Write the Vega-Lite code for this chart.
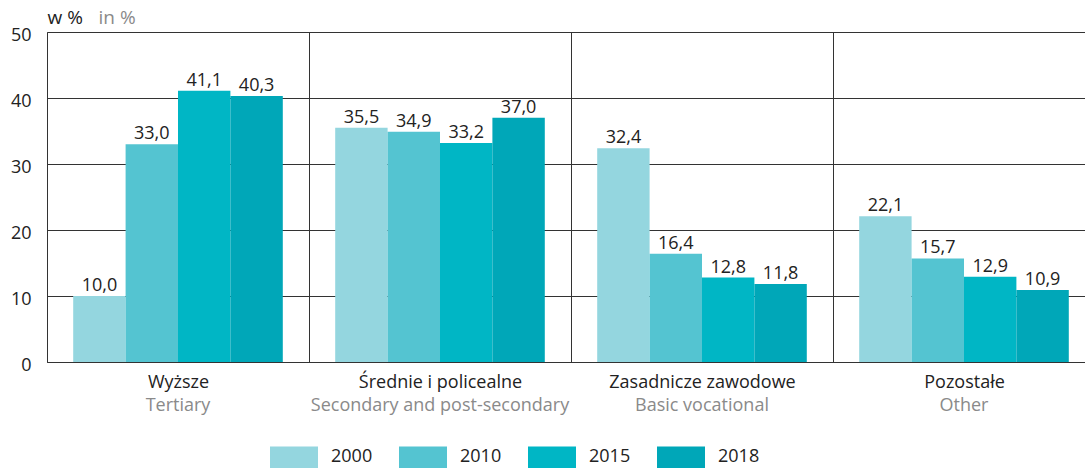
{
  "$schema": "https://vega.github.io/schema/vega-lite/v6.json",
  "width": 1038,
  "height": 330,
  "autosize": {"type": "none"},
  "padding": {"left": 47, "top": 32, "right": 0, "bottom": 106},
  "config": {
    "font": "Open Sans",
    "view": {"stroke": null},
    "locale": {"number": {"decimal": ",", "thousands": "\u00a0", "grouping": [3], "currency": ["", " zł"]}}
  },
  "data": {
    "values": [
      {"category": "Wyższe", "year": "2000", "value": 10.0},
      {"category": "Wyższe", "year": "2010", "value": 33.0},
      {"category": "Wyższe", "year": "2015", "value": 41.1},
      {"category": "Wyższe", "year": "2018", "value": 40.3},
      {"category": "Średnie i policealne", "year": "2000", "value": 35.5},
      {"category": "Średnie i policealne", "year": "2010", "value": 34.9},
      {"category": "Średnie i policealne", "year": "2015", "value": 33.2},
      {"category": "Średnie i policealne", "year": "2018", "value": 37.0},
      {"category": "Zasadnicze zawodowe", "year": "2000", "value": 32.4},
      {"category": "Zasadnicze zawodowe", "year": "2010", "value": 16.4},
      {"category": "Zasadnicze zawodowe", "year": "2015", "value": 12.8},
      {"category": "Zasadnicze zawodowe", "year": "2018", "value": 11.8},
      {"category": "Pozostałe", "year": "2000", "value": 22.1},
      {"category": "Pozostałe", "year": "2010", "value": 15.7},
      {"category": "Pozostałe", "year": "2015", "value": 12.9},
      {"category": "Pozostałe", "year": "2018", "value": 10.9}
    ]
  },
  "encoding": {
    "x": {
      "field": "category", "type": "nominal", "sort": null,
      "scale": {"range": [0, 1048], "paddingInner": 0, "paddingOuter": 0}
    },
    "xOffset": {"field": "year", "type": "nominal", "scale": {"paddingInner": 0, "paddingOuter": 0.5}},
    "y": {"field": "value", "type": "quantitative", "scale": {"domain": [0, 50], "nice": false}}
  },
  "layer": [
    {
      "mark": {"type": "bar"},
      "encoding": {
        "x": {
          "field": "category", "type": "nominal", "sort": null,
          "axis": {
            "title": null, "orient": "bottom", "labelAngle": 0, "labelFontSize": 18, "labelColor": "#222222",
            "labelPadding": 11, "labelLimit": 0, "ticks": false, "tickBand": "extent", "grid": true, "gridColor": "#333333",
            "gridWidth": 1, "domainColor": "#333333", "domainWidth": 1.2, "labelBaseline": "top"
          }
        },
        "y": {
          "field": "value", "type": "quantitative",
          "axis": {
            "orient": "left", "values": [0, 10, 20, 30, 40, 50], "grid": true, "gridColor": "#333333", "gridWidth": 1,
            "ticks": false, "domainColor": "#333333", "labelFontSize": 18, "labelColor": "#222222", "labelPadding": 16,
            "labelOffset": 3,
            "title": "w %", "titleAngle": 0, "titleAlign": "left", "titleBaseline": "alphabetic", "titleX": 0, "titleY": -9,
            "titleFontSize": 19, "titleFontWeight": "normal", "titleColor": "#222222"
          }
        },
        "color": {
          "field": "year", "type": "nominal",
          "scale": {"domain": ["2000", "2010", "2015", "2018"], "range": ["#94D6DF", "#54C4D1", "#00B6C5", "#00A7B8"]},
          "legend": {
            "title": null, "orient": "none", "legendX": 223, "legendY": 401, "direction": "horizontal", "columns": 4,
            "symbolType": "M-1,-0.46H1V0.46H-1Z", "symbolSize": 2304, "symbolStrokeWidth": 0, "symbolOpacity": 1,
            "labelFontSize": 18, "labelColor": "#222222", "labelOffset": 13, "columnPadding": 26
          }
        }
      }
    },
    {
      "mark": {"type": "text", "baseline": "alphabetic", "dy": -5, "fontSize": 18, "color": "#222222"},
      "encoding": {
        "x": {
          "field": "category", "type": "nominal", "sort": null,
          "axis": {
            "title": null, "orient": "bottom", "labelAngle": 0, "labelFontSize": 18, "labelColor": "#8a8a8a",
            "labelPadding": 34, "labelLimit": 0, "ticks": false, "grid": false, "domain": false, "labelBaseline": "top",
            "labelExpr": "{'Wyższe': 'Tertiary', 'Średnie i policealne': 'Secondary and post-secondary', 'Zasadnicze zawodowe': 'Basic vocational', 'Pozostałe': 'Other'}[datum.value]"
          }
        },
        "y": {
          "field": "value", "type": "quantitative",
          "axis": {
            "orient": "left", "grid": false, "ticks": false, "domain": false, "labels": false,
            "title": "in %", "titleAngle": 0, "titleAlign": "left", "titleBaseline": "alphabetic", "titleX": 51, "titleY": -9,
            "titleFontSize": 19, "titleFontWeight": "normal", "titleColor": "#8a8a8a"
          }
        },
        "text": {"field": "value", "type": "quantitative", "format": ".1f"}
      }
    }
  ],
  "resolve": {"axis": {"x": "independent", "y": "independent"}}
}
